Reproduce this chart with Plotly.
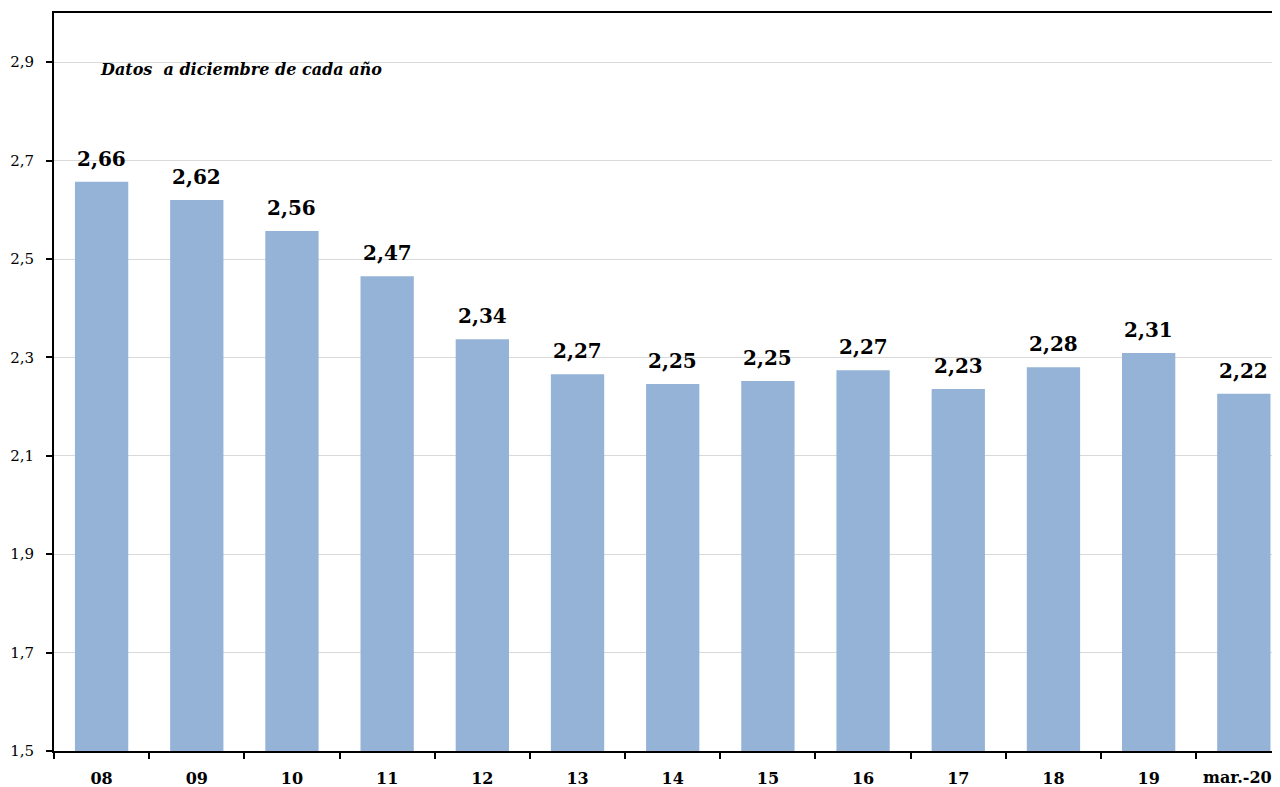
import plotly.graph_objects as go

categories = ["08", "09", "10", "11", "12", "13", "14", "15", "16", "17", "18", "19", "mar.-20"]
values = [2.657, 2.620, 2.557, 2.465, 2.337, 2.266, 2.246, 2.252, 2.274, 2.236, 2.280, 2.309, 2.226]
labels = ["2,66", "2,62", "2,56", "2,47", "2,34", "2,27", "2,25", "2,25", "2,27", "2,23", "2,28", "2,31", "2,22"]
y_ticks = [1.5, 1.7, 1.9, 2.1, 2.3, 2.5, 2.7, 2.9]
y_ticktext = ["1,5", "1,7", "1,9", "2,1", "2,3", "2,5", "2,7", "2,9"]
BASE = 1.5

SERIF = "DejaVu Serif"
XFONT = dict(family=SERIF, size=16, color="#000000", weight="bold")

fig = go.Figure()
fig.add_trace(go.Bar(
    x=list(range(len(categories))),
    y=[v - BASE for v in values],
    base=BASE,
    marker=dict(color="#95B3D7", line=dict(width=0)),
    width=0.56,
    hoverinfo="skip",
))

for i, (v, t) in enumerate(zip(values, labels)):
    fig.add_annotation(
        x=i, y=v, text="<b>" + t + "</b>", showarrow=False, xanchor="center", yanchor="bottom",
        yshift=9, font=dict(family=SERIF, size=20, color="#000000"),
    )

fig.add_annotation(
    xref="paper", yref="paper", x=0.0355, y=0.923, xanchor="left", yanchor="middle",
    text="<b><i>Datos\u00a0\u00a0a diciembre de cada año</i></b>", showarrow=False,
    font=dict(family=SERIF, size=16, color="#000000"),
)

# last category label drawn as text nudged left so it stays inside the page (as in the reference)
tick_text = categories[:-1] + [""]
fig.add_annotation(
    x=len(categories) - 1, xref="x", y=0, yref="paper", yanchor="top", xanchor="center",
    xshift=-6, yshift=-15, text="<b>" + categories[-1] + "</b>", showarrow=False,
    font=dict(family=SERIF, size=16, color="#000000"),
)

fig.update_layout(
    width=1272, height=779,
    margin=dict(l=46, r=0, t=5, b=36),
    paper_bgcolor="white", plot_bgcolor="white",
    showlegend=False,
    xaxis=dict(
        range=[-0.5, 12.38],
        tickmode="array", tickvals=list(range(len(categories))), ticktext=tick_text,
        showgrid=False, zeroline=False, automargin=False,
        showline=True, linecolor="#000000", linewidth=2, mirror=True,
        ticks="",
        tickfont=XFONT,
        ticklabelstandoff=12,
        minor=dict(tickmode="array", tickvals=[i - 0.5 for i in range(len(categories) + 1)],
                   ticks="outside", ticklen=6, tickcolor="#000000", tickwidth=1.5, showgrid=False),
    ),
    yaxis=dict(
        range=[1.5, 3.0],
        tickmode="array", tickvals=y_ticks, ticktext=y_ticktext,
        showgrid=True, gridcolor="#D9D9D9", gridwidth=1,
        zeroline=False, automargin=False,
        showline=True, linecolor="#000000", linewidth=2,
        ticks="outside", ticklen=6, tickcolor="#000000", tickwidth=1.5,
        tickfont=dict(family=SERIF, size=15, color="#000000"),
        ticklabelstandoff=9,
    ),
)

fig.write_html("out.html")
